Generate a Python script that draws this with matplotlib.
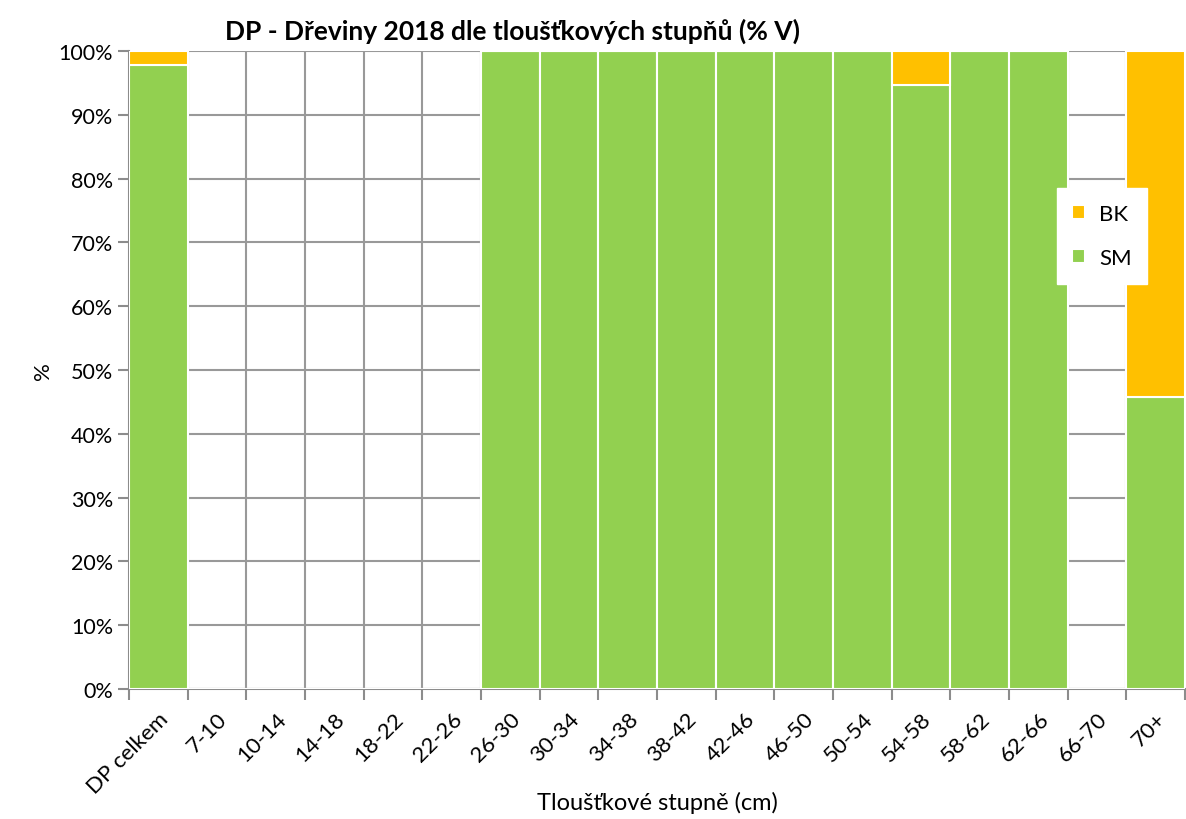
import matplotlib.pyplot as plt
import numpy as np
from matplotlib.ticker import PercentFormatter, FixedLocator

plt.rcParams['font.family'] = ['Lato', 'DejaVu Sans']

categories = ["DP celkem", "7-10", "10-14", "14-18", "18-22", "22-26", "26-30",
              "30-34", "34-38", "38-42", "42-46", "46-50", "50-54", "54-58",
              "58-62", "62-66", "66-70", "70+"]
# podil v % objemu
sm = [97.8, 0, 0, 0, 0, 0, 100, 100, 100, 100, 100, 100, 100, 94.6, 100, 100, 0, 45.8]
bk = [2.2, 0, 0, 0, 0, 0, 0, 0, 0, 0, 0, 0, 0, 5.4, 0, 0, 0, 54.2]

col_sm = "#92D050"
col_bk = "#FFC000"

fig = plt.figure(figsize=(11.86, 8.2), dpi=100)
ax = fig.add_axes([0.1088, 0.1585, 0.8905, 0.7781])

x = np.arange(len(categories))
ax.bar(x, sm, width=1.0, color=col_sm, edgecolor="white", linewidth=1.5, label="SM", zorder=3)
ax.bar(x, bk, width=1.0, bottom=sm, color=col_bk, edgecolor="white", linewidth=1.5, label="BK", zorder=3)

ax.set_xlim(-0.5, len(categories) - 0.5)
ax.set_ylim(0, 100)
ax.set_yticks(np.arange(0, 101, 10))
ax.yaxis.set_major_formatter(PercentFormatter(decimals=0))

ax.set_xticks(x)
ax.set_xticklabels(categories, rotation=45, ha="right", rotation_mode="anchor", fontsize=16)
ax.xaxis.set_minor_locator(FixedLocator(np.arange(-0.5, len(categories), 1.0)))
ax.tick_params(axis="x", which="major", length=0, pad=14)
ax.tick_params(axis="x", which="minor", length=8, width=1.5, color="#8c8c8c", direction="out")
ax.tick_params(axis="y", length=8, width=1.5, color="#8c8c8c", direction="out", labelsize=15.5)

ax.grid(axis="y", which="major", color="#999999", linewidth=1.5, zorder=0)
ax.grid(axis="x", which="minor", color="#999999", linewidth=1.5, zorder=0)
ax.set_axisbelow(True)

for s in ["top", "right"]:
    ax.spines[s].set_visible(False)
ax.spines["left"].set_color("#8c8c8c")
ax.spines["bottom"].set_color("#8c8c8c")
ax.spines["left"].set_linewidth(1.5)
ax.spines["bottom"].set_linewidth(1.5)

ax.set_title("DP - Dřeviny 2018 dle tloušťkových stupňů (% V)", fontsize=19,
             fontweight="bold", x=0.363, y=1.0, pad=9)
ax.set_ylabel("%", fontsize=16)
fig.text(0.554, 0.021, "Tloušťkové stupně (cm)", fontsize=17, ha="center", va="center")

h, l = ax.get_legend_handles_labels()
leg = fig.legend(h[::-1], l[::-1], loc="center", bbox_to_anchor=(0.929, 0.711),
                 frameon=True, fancybox=False, edgecolor="white", framealpha=1,
                 fontsize=16, handlelength=0.6, handleheight=0.6, labelspacing=1.1,
                 borderpad=0.7, handletextpad=0.6)

fig.savefig("out.png", dpi=100)
